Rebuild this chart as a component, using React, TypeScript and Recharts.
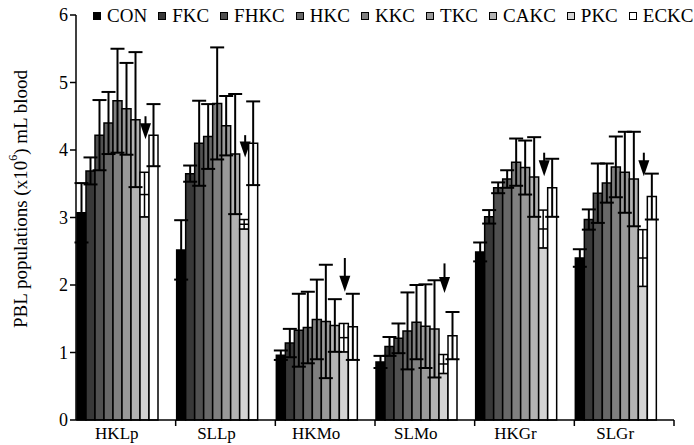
import React from "react";
import { BarChart, Bar, XAxis, YAxis, ErrorBar } from "recharts";

const groups = ["HKLp", "SLLp", "HKMo", "SLMo", "HKGr", "SLGr"];
const yTicks = [0, 1, 2, 3, 4, 5, 6];

// means and SD per treatment, one value per group
const conMean = [3.07, 2.52, 0.96, 0.86, 2.49, 2.4];
const conErr = [0.44, 0.44, 0.07, 0.09, 0.14, 0.13];
const fkcMean = [3.69, 3.65, 1.14, 1.09, 3.01, 2.97];
const fkcErr = [0.2, 0.12, 0.21, 0.14, 0.1, 0.15];
const fhkcMean = [4.22, 4.1, 1.33, 1.21, 3.44, 3.36];
const fhkcErr = [0.52, 0.63, 0.54, 0.22, 0.08, 0.44];
const hkcMean = [4.4, 4.2, 1.37, 1.32, 3.57, 3.51];
const hkcErr = [0.46, 0.48, 0.53, 0.57, 0.13, 0.29];
const kkcMean = [4.73, 4.69, 1.49, 1.45, 3.82, 3.75];
const kkcErr = [0.77, 0.83, 0.59, 0.55, 0.35, 0.45];
const tkcMean = [4.61, 4.36, 1.46, 1.39, 3.74, 3.67];
const tkcErr = [0.68, 0.44, 0.84, 0.62, 0.4, 0.6];
const cakcMean = [4.45, 3.94, 1.4, 1.35, 3.6, 3.57];
const cakcErr = [1.0, 0.89, 0.39, 0.72, 0.59, 0.7];
const pkcMean = [3.34, 2.9, 1.22, 0.83, 2.83, 2.4];
const pkcErr = [0.33, 0.07, 0.21, 0.14, 0.28, 0.42];
const eckcMean = [4.22, 4.1, 1.38, 1.25, 3.44, 3.31];
const eckcErr = [0.46, 0.62, 0.49, 0.35, 0.43, 0.34];

// down arrows above the PKC bars (value of line start and arrow tip)
const arrowTop = [4.5, 4.22, 2.4, 2.32, 3.96, 3.96];
const arrowTip = [4.16, 3.89, 1.9, 1.88, 3.61, 3.61];

const series = [
  { name: "CON", mean: conMean, err: conErr },
  { name: "FKC", mean: fkcMean, err: fkcErr },
  { name: "FHKC", mean: fhkcMean, err: fhkcErr },
  { name: "HKC", mean: hkcMean, err: hkcErr },
  { name: "KKC", mean: kkcMean, err: kkcErr },
  { name: "TKC", mean: tkcMean, err: tkcErr },
  { name: "CAKC", mean: cakcMean, err: cakcErr },
  { name: "PKC", mean: pkcMean, err: pkcErr },
  { name: "ECKC", mean: eckcMean, err: eckcErr },
];

const fills: Record<string, string> = {
  CON: "#000000",
  FKC: "#383838",
  FHKC: "#505050",
  HKC: "#686868",
  KKC: "#808080",
  TKC: "#999999",
  CAKC: "#b3b3b3",
  PKC: "#d3d3d3",
  ECKC: "#ffffff",
};

const data = groups.map((g, i) => {
  const row: any = { group: g, arrowTop: arrowTop[i], arrowTip: arrowTip[i] };
  series.forEach((s) => {
    row[s.name] = s.mean[i];
    row[s.name + "_err"] = s.err[i];
  });
  return row;
});

const FONT = "Liberation Serif, Tinos, Times, DejaVu Serif, serif";
const PLOT_W = 598;
const BAND = PLOT_W / groups.length;

const PkcShape = (props: any) => {
  const { x, y, width, height, payload, fill } = props;
  const mean = payload.PKC;
  if (!mean || height <= 0) return null;
  const ppu = height / mean;
  const base = y + height;
  const yAt = (v: number) => base - v * ppu;
  const lo = yAt(mean - payload.PKC_err);
  const hi = yAt(mean + payload.PKC_err);
  const cx = x + width / 2;
  const tip = yAt(payload.arrowTip);
  const top = yAt(payload.arrowTop);
  const ax = cx + 1;
  return (
    <g>
      <rect x={x} y={lo} width={width} height={base - lo} fill={fill} stroke="#000" strokeWidth={1.5} />
      <rect x={x} y={hi} width={width} height={lo - hi} fill="#fff" stroke="#000" strokeWidth={1.5} />
      <line x1={x} x2={x + width} y1={y} y2={y} stroke="#000" strokeWidth={1.5} />
      <line x1={cx} x2={cx} y1={hi} y2={lo} stroke="#000" strokeWidth={1.5} />
      <line x1={ax} x2={ax} y1={top} y2={tip - 14} stroke="#000" strokeWidth={2} />
      <polygon points={`${ax - 5.5},${tip - 16} ${ax + 5.5},${tip - 16} ${ax},${tip}`} fill="#000" />
    </g>
  );
};

const GroupTick = (props: any) => {
  const { x, y, payload } = props;
  const right = x + BAND / 2;
  return (
    <g>
      <text x={x - 9} y={y + 19} textAnchor="middle" fontSize={17} fontFamily={FONT} fill="#000">
        {payload.value}
      </text>
      <line x1={right} x2={right} y1={y} y2={y + 6} stroke="#000" strokeWidth={1.5} />
    </g>
  );
};

const YLabel = () => (
  <text
    x={20}
    y={199}
    transform="rotate(-90 20 199)"
    textAnchor="middle"
    dominantBaseline="central"
    fontSize={19}
    fontFamily={FONT}
    fill="#000"
  >
    PBL populations (x10
    <tspan dy={-7} fontSize={12}>6</tspan>
    <tspan dy={7}>) mL blood</tspan>
  </text>
);

const ChartLegend = () => (
  <div
    style={{
      position: "absolute",
      left: 93,
      top: 5,
      display: "flex",
      alignItems: "center",
      gap: 11,
      fontFamily: FONT,
      fontSize: 19,
      color: "#000",
      whiteSpace: "nowrap",
    }}
  >
    {series.map((s) => (
      <div key={s.name} style={{ display: "flex", alignItems: "center", gap: 6 }}>
        <span
          style={{
            width: 6,
            height: 6,
            border: "1.5px solid #000",
            background: fills[s.name],
            display: "inline-block",
          }}
        />
        <span>{s.name}</span>
      </div>
    ))}
  </div>
);

export default function App() {
  return (
    <div style={{ position: "absolute", left: 0, top: 0, width: 694, height: 445, background: "#fff" }}>
      <BarChart
        width={694}
        height={445}
        data={data}
        margin={{ top: 15, right: 20, left: 0, bottom: 0 }}
        barCategoryGap={1}
        barGap={0}
      >
        <XAxis
          dataKey="group"
          height={25}
          interval={0}
          tickLine={false}
          tickSize={0}
          tickMargin={0}
          axisLine={{ stroke: "#000", strokeWidth: 1.5 }}
          tick={<GroupTick />}
        />
        <YAxis
          domain={[0, 6]}
          ticks={yTicks}
          width={76}
          tickSize={6}
          tickMargin={2}
          axisLine={{ stroke: "#000", strokeWidth: 1.5 }}
          tickLine={{ stroke: "#000", strokeWidth: 1.5 }}
          tick={{ fill: "#000", fontSize: 18, fontFamily: FONT }}
          label={<YLabel />}
        />
        {series.map((s) =>
          s.name === "PKC" ? (
            <Bar
              key={s.name}
              dataKey={s.name}
              fill={fills[s.name]}
              shape={<PkcShape />}
              isAnimationActive={false}
            />
          ) : (
            <Bar
              key={s.name}
              dataKey={s.name}
              fill={fills[s.name]}
              stroke="#000"
              strokeWidth={1.5}
              isAnimationActive={false}
            >
              <ErrorBar dataKey={s.name + "_err"} width={7} stroke="#000" strokeWidth={2} direction="y" />
            </Bar>
          )
        )}
        <Bar dataKey="spacer1" fill="none" legendType="none" isAnimationActive={false} />
        <Bar dataKey="spacer2" fill="none" legendType="none" isAnimationActive={false} />
      </BarChart>
      <ChartLegend />
    </div>
  );
}
